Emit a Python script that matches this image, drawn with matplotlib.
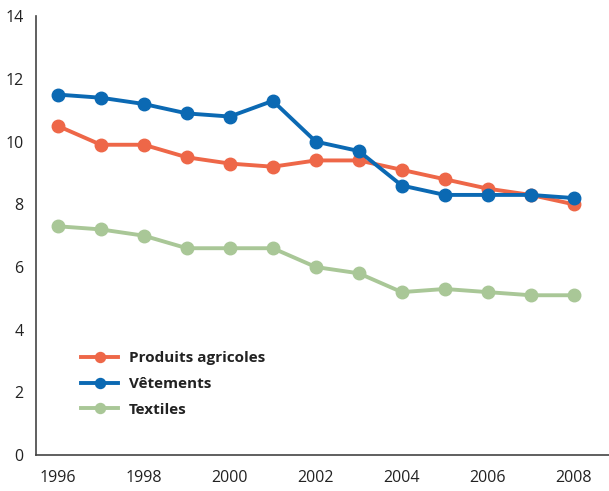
import matplotlib
matplotlib.use("Agg")
import matplotlib.pyplot as plt

# data
years = [1996, 1997, 1998, 1999, 2000, 2001, 2002, 2003, 2004, 2005, 2006, 2007, 2008]
produits_agricoles = [10.5, 9.9, 9.9, 9.5, 9.3, 9.2, 9.4, 9.4, 9.1, 8.8, 8.5, 8.3, 8.0]
vetements = [11.5, 11.4, 11.2, 10.9, 10.8, 11.3, 10.0, 9.7, 8.6, 8.3, 8.3, 8.3, 8.2]
textiles = [7.3, 7.2, 7.0, 6.6, 6.6, 6.6, 6.0, 5.8, 5.2, 5.3, 5.2, 5.1, 5.1]
labels = ["Produits agricoles", "Vêtements", "Textiles"]
x_ticks = [1996, 1998, 2000, 2002, 2004, 2006, 2008]
y_ticks = [0, 2, 4, 6, 8, 10, 12, 14]

colors = ["#EE6748", "#0B69B3", "#A9C797"]

plt.rcParams['font.family'] = ['Open Sans', 'DejaVu Sans']

fig = plt.figure(figsize=(6.09, 4.91), dpi=100)
ax = fig.add_axes([0.059, 0.073, 0.941, 0.894])

for series, label, color in zip([produits_agricoles, vetements, textiles], labels, colors):
    ax.plot(years, series, color=color, linewidth=2.8, marker='o',
            markersize=9, label=label)

ax.set_xlim(1995.49, 2008.82)
ax.set_ylim(0, 14)
ax.set_xticks(x_ticks)
ax.set_yticks(y_ticks)
ax.tick_params(length=0, labelsize=11.5, colors="#222222")
ax.tick_params(axis='x', pad=11)
ax.tick_params(axis='y', pad=9)
for side in ["top", "right"]:
    ax.spines[side].set_visible(False)
for side in ["left", "bottom"]:
    ax.spines[side].set_color("#444444")
    ax.spines[side].set_linewidth(1.2)

leg = ax.legend(loc="lower left", bbox_to_anchor=(0.055, 0.056), frameon=False,
                prop={'weight': 'bold', 'size': 11}, handlelength=2.4,
                labelspacing=0.78, handletextpad=0.7, markerscale=0.8)
for t in leg.get_texts():
    t.set_color("#222222")

fig.savefig("out.png", dpi=100)
